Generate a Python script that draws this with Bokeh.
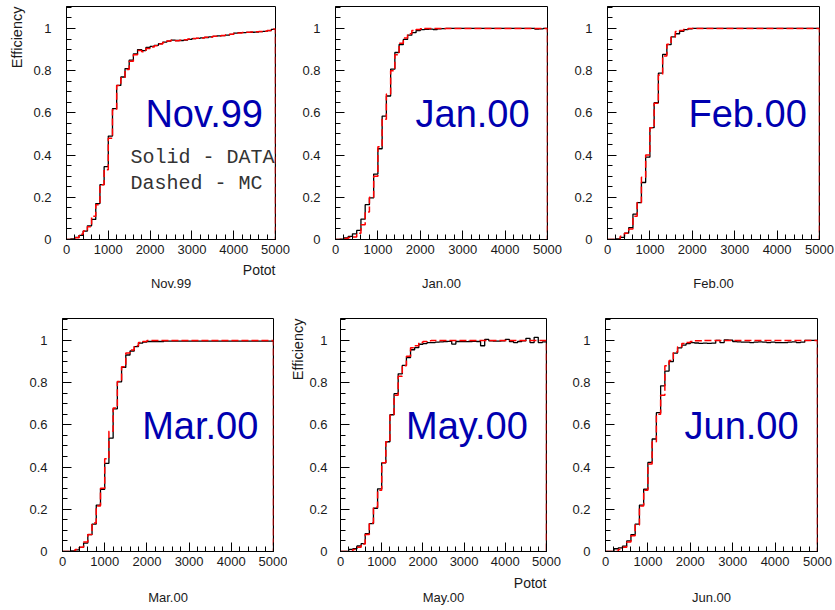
import numpy as np
from bokeh.plotting import figure
from bokeh.layouts import row, column
from bokeh.models import (FixedTicker, SingleIntervalTicker, Label, Range1d,
                          CustomJSTickFormatter, Title)
from bokeh.embed import file_html
from bokeh.resources import INLINE

# ---------------- data ----------------
X_MIN, X_MAX, N_BINS = 0, 5000, 50
Y_MAX = 1.104
x_major = 1000
y_major_ticks = [0, 0.2, 0.4, 0.6, 0.8, 1.0]

panel_names = ["Nov.99", "Jan.00", "Feb.00", "Mar.00", "May.00", "Jun.00"]

nov99_data = [0.0, 0.003, 0.01, 0.02, 0.04, 0.065, 0.095, 0.17, 0.26, 0.345,
              0.49, 0.62, 0.73, 0.77, 0.81, 0.85, 0.88, 0.90, 0.895, 0.91,
              0.915, 0.92, 0.928, 0.935, 0.94, 0.945, 0.943, 0.943, 0.945, 0.948,
              0.952, 0.953, 0.955, 0.957, 0.96, 0.962, 0.965, 0.966, 0.968, 0.972,
              0.978, 0.98, 0.98, 0.981, 0.982, 0.983, 0.985, 0.986, 0.99, 0.996]
nov99_mc = [0.0, 0.0, 0.008, 0.025, 0.04, 0.06, 0.11, 0.165, 0.26, 0.33,
            0.48, 0.615, 0.73, 0.765, 0.805, 0.845, 0.875, 0.895, 0.89, 0.905,
            0.912, 0.918, 0.926, 0.933, 0.94, 0.944, 0.942, 0.944, 0.946, 0.95,
            0.952, 0.954, 0.955, 0.958, 0.96, 0.963, 0.964, 0.967, 0.97, 0.973,
            0.977, 0.979, 0.981, 0.982, 0.983, 0.984, 0.985, 0.987, 0.99, 0.997]

jan00_data = [0.0, 0.002, 0.008, 0.015, 0.027, 0.043, 0.097, 0.165, 0.197, 0.31,
              0.43, 0.585, 0.68, 0.807, 0.886, 0.924, 0.948, 0.968, 0.98, 0.99,
              0.994, 0.996, 0.997, 0.995, 0.998, 0.999, 1.0, 1.0, 1.0, 1.0,
              1.0, 1.0, 1.0, 1.0, 1.0, 1.0, 1.0, 1.0, 1.0, 1.0,
              1.0, 1.0, 1.0, 1.0, 1.0, 1.0, 1.0, 0.997, 0.998, 1.0]
jan00_mc = [0.0, 0.0, 0.005, 0.01, 0.012, 0.03, 0.07, 0.13, 0.2, 0.30,
            0.44, 0.57, 0.69, 0.8, 0.875, 0.93, 0.955, 0.975, 0.99, 0.995,
            0.998, 1.0, 1.0, 1.0, 1.0, 1.0, 1.0, 1.0, 1.0, 1.0,
            1.0, 1.0, 1.0, 1.0, 1.0, 1.0, 1.0, 1.0, 1.0, 1.0,
            1.0, 1.0, 1.0, 1.0, 1.0, 1.0, 1.0, 1.0, 1.0, 1.0]

feb00_data = [0.0, 0.0, 0.003, 0.01, 0.03, 0.056, 0.12, 0.175, 0.27, 0.39,
              0.53, 0.648, 0.788, 0.877, 0.923, 0.96, 0.975, 0.986, 0.994, 0.998,
              1.0, 1.0, 1.0, 1.0, 1.0, 1.0, 1.0, 1.0, 1.0, 1.0,
              1.0, 1.0, 1.0, 1.0, 1.0, 1.0, 1.0, 1.0, 1.0, 1.0,
              1.0, 1.0, 1.0, 1.0, 1.0, 1.0, 1.0, 1.0, 1.0, 1.0]
feb00_mc = [0.0, 0.0, 0.0, 0.015, 0.03, 0.05, 0.11, 0.175, 0.295, 0.4,
            0.53, 0.645, 0.78, 0.87, 0.925, 0.96, 0.985, 0.99, 0.996, 1.0,
            1.0, 1.0, 1.0, 1.0, 1.0, 1.0, 1.0, 1.0, 1.0, 1.0,
            1.0, 1.0, 1.0, 1.0, 1.0, 1.0, 1.0, 1.0, 1.0, 1.0,
            1.0, 1.0, 1.0, 1.0, 1.0, 1.0, 1.0, 1.0, 1.0, 1.0]

mar00_data = [0.0, 0.0, 0.003, 0.008, 0.02, 0.04, 0.08, 0.13, 0.22, 0.295,
              0.418, 0.537, 0.676, 0.804, 0.872, 0.931, 0.95, 0.971, 0.987, 0.992,
              0.995, 0.995, 0.995, 0.995, 0.997, 0.997, 0.997, 0.997, 0.997, 0.997,
              0.997, 0.997, 0.997, 0.997, 0.997, 0.997, 0.997, 0.997, 0.997, 0.997,
              0.997, 0.997, 0.997, 0.997, 0.997, 0.997, 0.997, 0.997, 0.997, 0.997]
mar00_mc = [0.0, 0.0, 0.0, 0.01, 0.02, 0.045, 0.08, 0.135, 0.215, 0.30,
            0.44, 0.57, 0.68, 0.805, 0.875, 0.94, 0.955, 0.975, 0.99, 0.995,
            1.0, 1.0, 1.0, 1.0, 1.0, 1.0, 1.0, 1.0, 1.0, 1.0,
            1.0, 1.0, 1.0, 1.0, 1.0, 1.0, 1.0, 1.0, 1.0, 1.0,
            1.0, 1.0, 1.0, 1.0, 1.0, 1.0, 1.0, 1.0, 1.0, 1.0]

may00_data = [0.0, 0.0, 0.01, 0.013, 0.026, 0.037, 0.085, 0.132, 0.205, 0.297,
              0.42, 0.52, 0.648, 0.748, 0.842, 0.882, 0.919, 0.956, 0.966, 0.982,
              0.985, 0.99, 0.99, 0.992, 0.993, 0.995, 0.996, 0.983, 0.995, 0.995,
              0.994, 0.995, 0.996, 0.995, 0.975, 1.005, 0.998, 0.997, 0.997, 0.998,
              1.005, 0.995, 0.99, 0.995, 0.998, 1.01, 0.99, 1.015, 0.99, 0.993]
may00_mc = [0.0, 0.0, 0.0, 0.01, 0.02, 0.035, 0.08, 0.135, 0.21, 0.29,
            0.42, 0.52, 0.645, 0.74, 0.83, 0.88, 0.925, 0.965, 0.975, 0.99,
            0.995, 0.998, 1.0, 1.0, 1.0, 1.0, 1.0, 1.0, 1.0, 1.0,
            1.0, 1.0, 1.0, 1.0, 1.0, 1.0, 1.0, 1.0, 1.0, 1.0,
            1.0, 1.0, 1.0, 1.0, 1.0, 1.0, 1.0, 1.0, 1.0, 1.0]

jun00_data = [0.0, 0.0, 0.013, 0.017, 0.025, 0.05, 0.08, 0.13, 0.22, 0.295,
              0.422, 0.533, 0.658, 0.785, 0.855, 0.9, 0.94, 0.965, 0.978, 0.985,
              0.99, 0.988, 0.986, 0.987, 0.986, 0.987, 1.0, 0.99, 1.003, 1.002,
              0.995, 0.993, 0.992, 0.992, 0.99, 0.992, 0.993, 0.992, 0.99, 0.992,
              0.99, 0.99, 0.99, 0.992, 0.993, 0.99, 0.992, 1.0, 1.0, 1.0]
jun00_mc = [0.0, 0.0, 0.0, 0.01, 0.02, 0.045, 0.075, 0.125, 0.215, 0.29,
            0.415, 0.52, 0.65, 0.74, 0.88, 0.905, 0.945, 0.97, 0.985, 0.99,
            0.995, 0.998, 0.998, 1.0, 1.0, 1.0, 1.0, 1.0, 1.0, 1.0,
            1.0, 1.0, 1.0, 1.0, 1.0, 1.0, 1.0, 1.0, 1.0, 1.0,
            1.0, 1.0, 1.0, 1.0, 1.0, 1.0, 1.0, 1.0, 1.0, 1.0]

data_series = [nov99_data, jan00_data, feb00_data, mar00_data, may00_data, jun00_data]
mc_series = [nov99_mc, jan00_mc, feb00_mc, mar00_mc, may00_mc, jun00_mc]

legend_lines = ["Solid - DATA", "Dashed - MC"]
y_title = "Efficiency"
x_title = "Potot"

# ---------------- layout / style ----------------
FH = 233          # frame height
FONT = "Liberation Sans"
TXT = "#1a1a1a"
frame_w = [212, 212, 212, 211, 206, 212]
big_label_x = [1887, 1887, 1910, 1887, 1590, 1863]
y_standoff = [15, 15, 15, 15, 13, 15]

# (left, right, top, bottom) borders per panel
borders = [(63, 20, 6, 75), (40, 20, 6, 75), (40, 15, 6, 75),
           (62, 14, 4, 57), (53, 15, 4, 57), (44, 15, 4, 57)]
has_titles = [True, False, False, False, True, False]


def step_xy(vals):
    edges = np.linspace(X_MIN, X_MAX, N_BINS + 1)
    xs = np.repeat(edges, 2)[1:]
    ys = np.append(np.repeat(np.asarray(vals, dtype=float), 2), 0.0)
    return xs, ys


def make_panel(i):
    l, r, t, b = borders[i]
    fw = frame_w[i]
    top_row = i < 3
    p = figure(width=l + fw + r, height=t + FH + b,
               x_range=Range1d(X_MIN, X_MAX), y_range=Range1d(0, Y_MAX),
               output_backend="svg", toolbar_location=None,
               min_border_left=l, min_border_right=r,
               min_border_top=t, min_border_bottom=b,
               background_fill_color="white", border_fill_color="white")
    p.xgrid.visible = False
    p.ygrid.visible = False
    p.outline_line_color = "black"
    p.outline_line_alpha = 1.0
    p.outline_line_width = 1

    xa = p.xaxis[0]
    xa.ticker = SingleIntervalTicker(interval=x_major, num_minor_ticks=5)
    ya = p.yaxis[0]
    ya.ticker = FixedTicker(ticks=y_major_ticks,
                            minor_ticks=list(np.round(np.arange(0, Y_MAX, 0.05), 2)))
    ya.formatter = CustomJSTickFormatter(code="return tick.toString();")
    for ax in (xa, ya):
        ax.axis_line_color = "black"
        ax.axis_line_width = 1
        ax.major_tick_line_color = "black"
        ax.minor_tick_line_color = "black"
        ax.major_tick_in = 9
        ax.major_tick_out = 0
        ax.minor_tick_in = 5
        ax.minor_tick_out = 0
        ax.major_label_text_font = FONT
        ax.major_label_text_font_size = "13px"
        ax.major_label_text_color = TXT
    xa.major_label_standoff = 5
    ya.major_label_standoff = y_standoff[i]

    xs, ys = step_xy(data_series[i])
    p.line(xs, ys, line_color="black", line_width=1.3)
    xs, ys = step_xy(mc_series[i])
    p.line(xs, ys, line_color="#ff0000", line_width=1.5, line_dash="7 3")

    p.add_layout(Label(x=big_label_x[i], y=0.593, text=panel_names[i],
                       text_font=FONT, text_font_size="38px",
                       text_color="#0000b0", text_baseline="alphabetic",
                       text_align="left"))

    if has_titles[i]:
        p.add_layout(Title(text=y_title, align="right", text_font=FONT,
                           text_font_size="14.5px", text_font_style="normal",
                           text_color=TXT, standoff=12 if i == 0 else 1), "left")
        p.add_layout(Title(text=x_title, align="right", text_font=FONT,
                           text_font_size="14px", text_font_style="normal",
                           text_color=TXT, standoff=6 if top_row else 9), "below")
        p.add_layout(Title(text=panel_names[i], align="center", text_font=FONT,
                           text_font_size="13px", text_font_style="normal",
                           text_color=TXT, standoff=-14 if top_row else -16),
                     "below")
    else:
        xa.axis_label = panel_names[i]
        xa.axis_label_standoff = 19 if top_row else 21
        xa.axis_label_text_font = FONT
        xa.axis_label_text_font_size = "13px"
        xa.axis_label_text_font_style = "normal"
        xa.axis_label_text_color = TXT
    return p


panels = [make_panel(i) for i in range(6)]

# Legend-like text in first panel
for k, yv in enumerate([0.389, 0.265]):
    panels[0].add_layout(Label(x=1533, y=yv, text=legend_lines[k],
                               text_font="Liberation Mono", text_font_size="20px",
                               text_color="#333333", text_baseline="alphabetic"))

layout = column(row(*panels[:3]), row(*panels[3:]))
open("out.html", "w").write(file_html(layout, INLINE))
